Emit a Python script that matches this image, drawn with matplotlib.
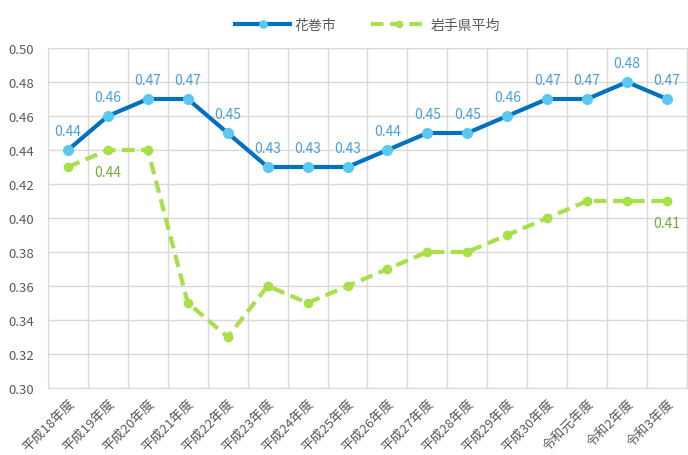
import matplotlib.pyplot as plt

plt.rcParams['font.family'] = ['Noto Sans CJK JP', 'DejaVu Sans']

years = ["平成18年度", "平成19年度", "平成20年度", "平成21年度", "平成22年度",
         "平成23年度", "平成24年度", "平成25年度", "平成26年度", "平成27年度",
         "平成28年度", "平成29年度", "平成30年度", "令和元年度", "令和2年度", "令和3年度"]
hanamaki = [0.44, 0.46, 0.47, 0.47, 0.45, 0.43, 0.43, 0.43,
            0.44, 0.45, 0.45, 0.46, 0.47, 0.47, 0.48, 0.47]
iwate = [0.43, 0.44, 0.44, 0.35, 0.33, 0.36, 0.35, 0.36,
         0.37, 0.38, 0.38, 0.39, 0.40, 0.41, 0.41, 0.41]
iwate_labelled = [1, 15]

blue, blue_mk, blue_txt = "#0070C0", "#5BC8F0", "#4A9ED8"
green, green_txt = "#A8E04A", "#76A83A"
grey = "#595959"

fig = plt.figure(figsize=(6.88, 4.56), dpi=100)
ax = fig.add_axes([0.0698, 0.147, 0.9287, 0.7455])

x = list(range(len(years)))
ax.plot(x, hanamaki, color=blue, lw=3, marker="o", ms=7,
        mfc=blue_mk, mec=blue_mk, label="花巻市", zorder=4)
ax.plot(x, iwate, color=green, lw=3, ls=(0, (3, 1.6)), marker="o", ms=6,
        mfc=green, mec=green, label="岩手県平均", zorder=3)

for i, v in enumerate(hanamaki):
    ax.annotate(f"{v:.2f}", (i, v), xytext=(0, 9), textcoords="offset points",
                ha="center", va="bottom", color=blue_txt, fontsize=10)
for i in iwate_labelled:
    ax.annotate(f"{iwate[i]:.2f}", (i, iwate[i]), xytext=(0, -11), textcoords="offset points",
                ha="center", va="top", color=green_txt, fontsize=10)

ax.set_xlim(-0.5, len(years) - 0.5)
ax.set_ylim(0.30, 0.50)
ax.set_yticks([0.30 + 0.02 * k for k in range(11)])
ax.set_yticklabels([f"{0.30 + 0.02 * k:.2f}" for k in range(11)])
ax.set_xticks(x)
ax.set_xticklabels(years, rotation=45, ha="right", rotation_mode="anchor")
ax.set_xticks([i - 0.5 for i in range(len(years) + 1)], minor=True)
ax.tick_params(axis="both", which="both", length=0, colors=grey, labelsize=9.5)
ax.tick_params(axis="x", pad=6)
ax.tick_params(axis="y", pad=10)

ax.grid(True, which="minor", axis="x", color="#D9D9D9", lw=1)
ax.grid(True, which="major", axis="y", color="#D9D9D9", lw=1)
for s in ax.spines.values():
    s.set_color("#D9D9D9")

ax.legend(loc="lower center", bbox_to_anchor=(0.5, 1.01), ncol=2, frameon=False,
          fontsize=10, handlelength=4, columnspacing=2.5, labelcolor=grey,
          markerscale=0.75, handletextpad=0.3)

fig.savefig("out.png")
